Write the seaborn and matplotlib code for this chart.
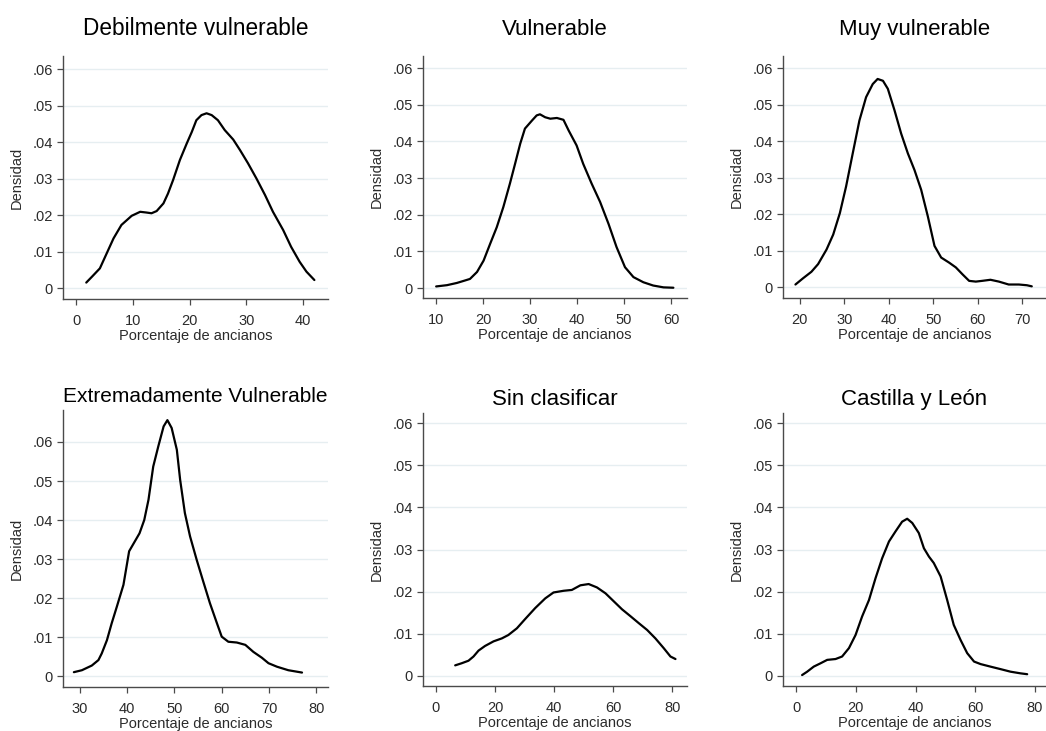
import matplotlib
matplotlib.use("Agg")
import matplotlib.pyplot as plt
import seaborn as sns
import pandas as pd

# ---------------- data ----------------
titles = ["Debilmente vulnerable", "Vulnerable", "Muy vulnerable",
          "Extremadamente Vulnerable", "Sin clasificar", "Castilla y León"]

x_deb = [1.8, 2.8, 4.2, 5.4, 6.6, 8.0, 9.8, 11.3, 12.4, 13.3, 14.2, 15.4, 16.2, 17.1,
         18.3, 19.5, 20.4, 21.2, 22.1, 23.0, 23.9, 25.0, 26.2, 27.7, 28.9, 30.3, 31.8,
         33.3, 34.7, 36.5, 37.9, 39.4, 40.6, 42.0]
y_deb = [0.0015, 0.0031, 0.0054, 0.0095, 0.0136, 0.0173, 0.0198, 0.0209, 0.0207, 0.0205,
         0.0211, 0.0232, 0.0259, 0.0296, 0.0351, 0.0396, 0.0428, 0.0460, 0.0474, 0.0479,
         0.0474, 0.0460, 0.0433, 0.0407, 0.0378, 0.0342, 0.0300, 0.0255, 0.0209, 0.0159,
         0.0113, 0.0072, 0.0045, 0.0022]

x_vul = [10.0, 12.3, 14.4, 16.2, 17.2, 18.7, 20.1, 21.5, 22.9, 24.3, 25.7, 26.8, 27.9,
         28.9, 30.4, 31.4, 32.1, 33.2, 34.3, 35.7, 37.1, 38.2, 39.9, 41.3, 43.1, 44.9,
         46.7, 48.4, 50.2, 52.0, 54.1, 56.2, 58.4, 60.5]
y_vul = [0.00045, 0.0008, 0.0014, 0.0021, 0.0025, 0.0044, 0.0075, 0.0121, 0.0166, 0.0221,
         0.0285, 0.0339, 0.0394, 0.0435, 0.0457, 0.0471, 0.0474, 0.0466, 0.0462, 0.0464,
         0.0459, 0.0430, 0.0389, 0.0339, 0.0285, 0.0235, 0.0175, 0.0112, 0.0057, 0.0030,
         0.0016, 0.0007, 0.0002, 0.0001]

x_muy = [19.0, 20.7, 22.6, 24.1, 26.0, 27.5, 29.0, 30.4, 31.9, 33.4, 34.9, 36.4, 37.5,
         38.7, 39.8, 41.3, 42.8, 44.3, 45.8, 47.3, 48.8, 50.3, 51.8, 53.6, 55.1, 56.6,
         58.1, 59.6, 61.0, 62.9, 64.8, 67.0, 69.3, 71.1, 72.2]
y_muy = [0.0007, 0.0024, 0.0042, 0.0063, 0.0103, 0.0144, 0.0203, 0.0276, 0.0367, 0.0457,
         0.0521, 0.0557, 0.0571, 0.0566, 0.0544, 0.0485, 0.0421, 0.0367, 0.0321, 0.0267,
         0.0194, 0.0113, 0.0081, 0.0067, 0.0054, 0.0035, 0.0017, 0.0015, 0.0017, 0.0020,
         0.0015, 0.0007, 0.0007, 0.0005, 0.0002]

x_ext = [28.7, 30.4, 32.5, 33.9, 34.6, 35.7, 36.7, 37.8, 39.2, 40.4, 42.6, 43.6, 44.5,
         45.5, 46.6, 47.7, 48.5, 49.4, 50.5, 51.2, 52.2, 53.3, 54.7, 56.1, 57.5, 59.0,
         60.0, 61.4, 63.2, 65.0, 66.7, 68.5, 69.9, 71.7, 74.1, 77.0]
y_ext = [0.0010, 0.0015, 0.0027, 0.0041, 0.0058, 0.0092, 0.0135, 0.0178, 0.0234, 0.0320,
         0.0366, 0.0400, 0.0452, 0.0537, 0.0590, 0.0640, 0.0656, 0.0636, 0.0580, 0.0503,
         0.0418, 0.0358, 0.0298, 0.0242, 0.0187, 0.0135, 0.0101, 0.0088, 0.0086, 0.0080,
         0.0062, 0.0047, 0.0033, 0.0024, 0.0015, 0.0009]

x_sin = [6.5, 8.7, 11.0, 12.7, 14.4, 16.6, 19.5, 22.3, 24.5, 27.4, 30.2, 33.6, 37.0,
         39.8, 43.2, 46.0, 48.9, 51.7, 54.5, 57.4, 60.2, 63.0, 65.8, 68.7, 71.5, 74.3,
         77.1, 79.4, 81.1]
y_sin = [0.0025, 0.0030, 0.0036, 0.0046, 0.0060, 0.0071, 0.0082, 0.0089, 0.0097, 0.0113,
         0.0135, 0.0161, 0.0184, 0.0198, 0.0202, 0.0204, 0.0215, 0.0218, 0.0210, 0.0196,
         0.0177, 0.0158, 0.0142, 0.0125, 0.0109, 0.0089, 0.0066, 0.0046, 0.0040]

x_cyl = [2.0, 3.7, 5.9, 8.2, 10.4, 13.2, 15.4, 17.7, 19.9, 22.1, 24.4, 26.6, 28.8, 31.1,
         33.3, 35.5, 37.2, 38.9, 41.1, 42.8, 44.5, 46.1, 48.4, 50.6, 52.8, 55.1, 57.3,
         59.6, 61.8, 65.1, 68.5, 71.8, 75.2, 77.4]
y_cyl = [0.0002, 0.0010, 0.0022, 0.0030, 0.0038, 0.0040, 0.0046, 0.0066, 0.0097, 0.0141,
         0.0180, 0.0232, 0.0279, 0.0319, 0.0343, 0.0366, 0.0373, 0.0363, 0.0339, 0.0303,
         0.0283, 0.0268, 0.0236, 0.0180, 0.0121, 0.0085, 0.0054, 0.0034, 0.0028, 0.0022,
         0.0016, 0.0010, 0.0006, 0.0004]

xs = [x_deb, x_vul, x_muy, x_ext, x_sin, x_cyl]
ys = [y_deb, y_vul, y_muy, y_ext, y_sin, y_cyl]

xticks = [[0, 10, 20, 30, 40], [10, 20, 30, 40, 50, 60], [20, 30, 40, 50, 60, 70],
          [30, 40, 50, 60, 70, 80], [0, 20, 40, 60, 80], [0, 20, 40, 60, 80]]
yticks = [0, 0.01, 0.02, 0.03, 0.04, 0.05, 0.06]
ytick_labels = ["0", ".01", ".02", ".03", ".04", ".05", ".06"]
xlabel = "Porcentaje de ancianos"
ylabel = "Densidad"

# ---------------- layout ----------------
W, H = 1046, 731
# (left, right, top, bottom) in pixels
boxes = [(63, 328, 56, 299), (423, 687, 56, 298), (783, 1046, 56, 298),
         (63, 328, 410, 687), (423, 687, 413, 686), (783, 1046, 413, 686)]
xlims = [(-2.3, 44.4), (7.2, 63.4), (16.2, 75.4), (26.4, 82.5), (-4.4, 85.0), (-4.4, 83.7)]
ylims = [(-0.003, 0.0636), (-0.0027, 0.0633), (-0.003, 0.0634),
         (-0.0028, 0.0682), (-0.0024, 0.0624), (-0.0024, 0.0624)]
title_pads = [15, 15, 15, 6, 6, 6]
title_sizes = [16.3, 16, 16, 15, 16, 16]

sns.set_theme(style="white")
plt.rcParams["font.family"] = ["Liberation Sans", "DejaVu Sans"]

fig = plt.figure(figsize=(W / 100, H / 100), dpi=100)
fig.patch.set_facecolor("white")

text_col = "#2b2b2b"
axis_col = "#4a4a4a"
grid_col = "#e6eef1"

for i in range(6):
    l, r, t, b = boxes[i]
    ax = fig.add_axes([l / W, 1 - b / H, (r - l) / W, (b - t) / H])
    ax.set_facecolor("white")
    df = pd.DataFrame({"x": xs[i], "y": ys[i]})
    sns.lineplot(data=df, x="x", y="y", ax=ax, color="black", linewidth=1.6,
                 estimator=None, sort=False)
    ax.set_xlim(*xlims[i])
    ax.set_ylim(*ylims[i])
    ax.set_xticks(xticks[i])
    ax.set_xticklabels([str(v) for v in xticks[i]])
    ax.set_yticks(yticks)
    ax.set_yticklabels(ytick_labels)
    ax.yaxis.grid(True, color=grid_col, linewidth=1.0)
    ax.xaxis.grid(False)
    ax.set_axisbelow(True)
    for s in ["top", "right"]:
        ax.spines[s].set_visible(False)
    for s in ["left", "bottom"]:
        ax.spines[s].set_visible(True)
        ax.spines[s].set_color(axis_col)
        ax.spines[s].set_linewidth(1.0)
    ax.tick_params(axis="both", which="major", direction="out", length=4.5, width=0.9,
                   color=axis_col, labelcolor=text_col, labelsize=10.5,
                   left=True, bottom=True)
    ax.tick_params(axis="x", pad=6.5)
    ax.tick_params(axis="y", pad=3)
    ax.set_xlabel(xlabel, fontsize=10.5, color=text_col, labelpad=0.5)
    ax.set_ylabel(ylabel, fontsize=10.5, color=text_col, labelpad=6)
    ax.set_title(titles[i], fontsize=title_sizes[i], color="black", pad=title_pads[i])

fig.savefig("out.png", dpi=100, facecolor="white")
